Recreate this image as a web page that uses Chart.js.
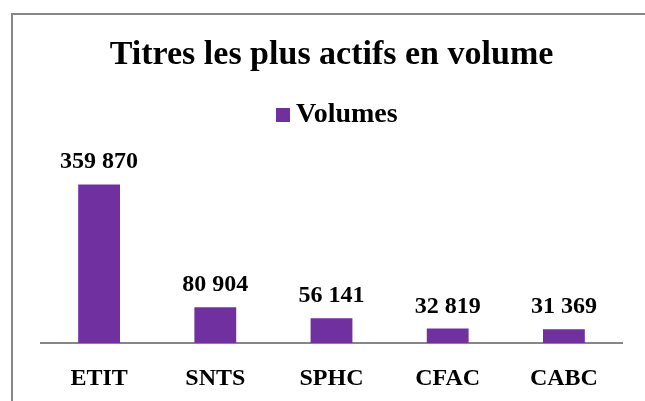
<!DOCTYPE html>
<html>
<head>
<meta charset="utf-8">
<script src="https://cdn.jsdelivr.net/npm/chart.js@4/dist/chart.umd.min.js"></script>
<style>
html,body{margin:0;padding:0;background:#fff;}
#wrap{position:relative;width:645px;height:401px;}
</style>
</head>
<body>
<div id="wrap"><canvas id="c" width="645" height="401"></canvas></div>
<script>
const categories = ['ETIT', 'SNTS', 'SPHC', 'CFAC', 'CABC'];
const volumes = [359870, 80904, 56141, 32819, 31369];
const seriesName = 'Volumes';
const chartTitle = 'Titres les plus actifs en volume';

const FONT = "'Liberation Serif', 'Times New Roman', serif";
const BAR_COLOR = '#7030A0';

function fmt(v) {
  return String(v).replace(/\B(?=(\d{3})+(?!\d))/g, ' ');
}

const frame = {
  id: 'frame',
  beforeDraw(chart) {
    const ctx = chart.ctx;
    ctx.save();
    ctx.fillStyle = '#fff';
    ctx.fillRect(0, 0, chart.width, chart.height);
    ctx.strokeStyle = '#868686';
    ctx.lineWidth = 2;
    ctx.beginPath();
    ctx.moveTo(12, chart.height + 2);
    ctx.lineTo(12, 14);
    ctx.lineTo(chart.width + 2, 14);
    ctx.stroke();
    ctx.restore();
  }
};

// legend drawn from the dataset (label + colour), Excel-style spacing
const seriesLegend = {
  id: 'seriesLegend',
  afterDraw(chart) {
    const ctx = chart.ctx;
    const ds = chart.data.datasets[0];
    ctx.save();
    ctx.font = 'bold 28px ' + FONT;
    const w = ctx.measureText(ds.label).width;
    const box = 14, gap = 6;
    const total = box + gap + w;
    const cx = (chart.chartArea.left + chart.chartArea.right) / 2 + 5;
    const x0 = Math.round(cx - total / 2);
    const cy = 115;
    ctx.fillStyle = ds.backgroundColor;
    ctx.fillRect(x0, cy - box / 2, box, box);
    ctx.fillStyle = '#000';
    ctx.textAlign = 'left';
    ctx.textBaseline = 'middle';
    ctx.fillText(ds.label, x0 + box + gap, cy);
    ctx.restore();
  }
};

const valueLabels = {
  id: 'valueLabels',
  afterDatasetsDraw(chart) {
    const ctx = chart.ctx;
    const meta = chart.getDatasetMeta(0);
    const data = chart.data.datasets[0].data;
    ctx.save();
    ctx.font = 'bold 24px ' + FONT;
    ctx.fillStyle = '#000';
    ctx.textAlign = 'center';
    ctx.textBaseline = 'alphabetic';
    meta.data.forEach((bar, i) => {
      ctx.fillText(fmt(data[i]), bar.x, bar.y - 16);
    });
    ctx.restore();
  }
};

new Chart(document.getElementById('c'), {
  type: 'bar',
  data: {
    labels: categories,
    datasets: [{
      label: seriesName,
      data: volumes,
      backgroundColor: BAR_COLOR,
      borderWidth: 0,
      categoryPercentage: 1,
      barPercentage: 0.36
    }]
  },
  options: {
    responsive: false,
    animation: false,
    layout: { padding: { top: 15, left: 41, right: 23, bottom: 0 } },
    plugins: {
      title: {
        display: true,
        text: chartTitle,
        color: '#000',
        font: { family: FONT, size: 34, weight: 'bold' },
        padding: { top: 20, bottom: 91 }
      },
      legend: { display: false },
      tooltip: { enabled: false }
    },
    scales: {
      x: {
        grid: { display: false, drawTicks: false },
        border: { display: true, color: '#868686', width: 2 },
        ticks: {
          color: '#000',
          font: { family: FONT, size: 24, weight: 'bold' },
          padding: 21
        },
        afterFit(scale) { scale.height = 58; }
      },
      y: {
        display: false,
        min: 0,
        max: 400000
      }
    }
  },
  plugins: [frame, valueLabels, seriesLegend]
});
</script>
</body>
</html>
